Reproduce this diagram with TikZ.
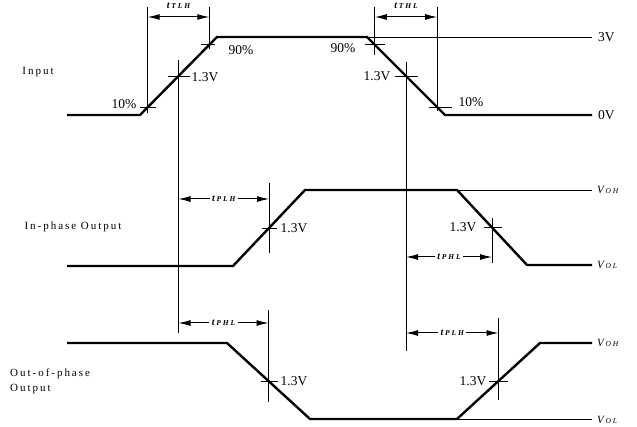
\documentclass[tikz,border=0pt]{standalone}
\usepackage{fontspec}
\setmainfont{Liberation Serif}
\usetikzlibrary{arrows.meta,calc}
\newcommand{\dt}[1]{{\fontsize{10}{11}\selectfont t}\,{\fontsize{7.5}{8}\selectfont\addfontfeature{LetterSpace=25}#1}}
\newcommand{\vv}[1]{{\fontsize{11}{12}\selectfont V}\,{\fontsize{7.5}{8}\selectfont\addfontfeature{LetterSpace=25}#1}}
\begin{document}
\begin{tikzpicture}[x=1pt,y=-1pt,
  wave/.style={line width=2.4pt,line join=miter},
  thinline/.style={line width=0.9pt},
  dimline/.style={line width=1pt,{Latex[length=12pt,width=6pt]}-{Latex[length=12pt,width=6pt]}},
  lbl/.style={font=\fontsize{13.5}{15}\selectfont,inner sep=0pt},
  dlbl/.style={font=\bfseries\itshape,inner sep=1.5pt},
  dlblw/.style={dlbl,fill=white,inner sep=2.5pt},
  sig/.style={font=\fontsize{11}{15}\selectfont\addfontfeature{LetterSpace=18},inner sep=0pt,align=left},
  vlbl/.style={font=\itshape,inner sep=0pt,anchor=west},
]
\useasboundingbox (0,0) rectangle (637,427);
% levels
\coordinate (y7) at (0,7);
\coordinate (y17) at (0,17);
\coordinate (y6) at (0,6);
% ---------- Input ----------
\coordinate (i0) at (67,115);
\coordinate (i1) at (140,115);
\coordinate (i2) at (217,37);
\coordinate (i3) at (367,37);
\coordinate (i4) at (445,115);
\coordinate (i5) at (592,115);
\coordinate (i3v) at (592,37);
\draw[wave] (i0) -- (i1) -- (i2) -- (i3) -- (i4) -- (i5);
\draw[thinline] (i3) -- (i3v);
\coordinate (r10) at ($(i1)!0.1!(i2)$);
\coordinate (r50) at ($(i1)!0.5!(i2)$);
\coordinate (r90) at ($(i1)!0.9!(i2)$);
\coordinate (f90) at ($(i3)!0.1!(i4)$);
\coordinate (f50) at ($(i3)!0.5!(i4)$);
\coordinate (f10) at ($(i3)!0.9!(i4)$);
% crosshair ticks
\draw[thinline] ($(r10)+(-8,0)$) -- ($(r10)+(8,0)$);
\draw[thinline] ($(r50)+(-11,0)$) -- ($(r50)+(11,0)$);
\draw[thinline] ($(r90)+(-8,0)$) -- ($(r90)+(6,0)$);
\draw[thinline] ($(f90)+(-10,0)$) -- ($(f90)+(10,0)$);
\draw[thinline] ($(f50)+(-11,0)$) -- ($(f50)+(12,0)$);
\draw[thinline] ($(f10)+(-8,0)$) -- ($(f10)+(15,0)$);
% extension lines
\draw[thinline] (r10 |- y7) -- ($(r10)+(0,6)$);
\draw[thinline] (r90 |- y7) -- ($(r90)+(0,4)$);
\draw[thinline] (f90 |- y7) -- ($(f90)+(0,10)$);
\draw[thinline] (f10 |- y7) -- ($(f10)+(0,4)$);
\draw[thinline] ($(r50)+(0,-16)$) -- (r50 |- 0,333);
\draw[thinline] ($(f50)+(0,-14)$) -- (f50 |- 0,351);
% dimensions
\draw[dimline] (r10 |- y17) -- (r90 |- y17);
\node[dlbl] (ttlh) at ($(r10 |- y6)!0.5!(r90 |- y6)$) {\dt{TLH}};
\draw[dimline] (f90 |- y17) -- (f10 |- y17);
\node[dlbl] (tthl) at ($(f90 |- y6)!0.5!(f10 |- y6)$) {\dt{THL}};
% labels
\node[sig] (lin) at (38,72) {Input};
\node[lbl] (l10a) at (124,104) {10\%};
\node[lbl] (l13a) at (205,77) {1.3V};
\node[lbl] (l90a) at (241,50) {90\%};
\node[lbl] (l90b) at (343,48) {90\%};
\node[lbl] (l13b) at (377,76) {1.3V};
\node[lbl] (l10b) at (471,102) {10\%};
\node[lbl,anchor=west] (l3v) at (598,37) {3V};
\node[lbl,anchor=west] (l0v) at (598,115) {0V};
% ---------- In-phase ----------
\coordinate (p0) at (67,266);
\coordinate (p1) at (233,266);
\coordinate (p2) at (305,190);
\coordinate (p3) at (457,190);
\coordinate (p4) at (527,265);
\coordinate (p5) at (592,265);
\coordinate (p3v) at (592,190);
\draw[wave] (p0) -- (p1) -- (p2) -- (p3) -- (p4) -- (p5);
\draw[thinline] (p3) -- (p3v);
\coordinate (pr50) at ($(p1)!0.5!(p2)$);
\coordinate (pf50) at ($(p3)!0.5!(p4)$);
\draw[thinline] ($(pr50)+(-7,0)$) -- ($(pr50)+(8,0)$);
\draw[thinline] ($(pf50)+(-8,0)$) -- ($(pf50)+(10,0)$);
\draw[thinline] (pr50 |- 0,183) -- (pr50 |- 0,253);
\draw[thinline] (pf50 |- 0,218) -- (pf50 |- 0,263);
\draw[dimline] (r50 |- 0,199) -- (pr50 |- 0,199);
\node[dlblw] (tplh1) at ($(r50 |- 0,199)!0.5!(pr50 |- 0,199)$) {\dt{PLH}};
\draw[dimline] (f50 |- 0,257) -- (pf50 |- 0,257);
\node[dlblw] (tphl1) at ($(f50 |- 0,257)!0.5!(pf50 |- 0,257)$) {\dt{PHL}};
\node[sig] (lip) at (73,227) {In-phase Output};
\node[lbl] (l13c) at (294,228) {1.3V};
\node[lbl] (l13d) at (463,227) {1.3V};
\node[vlbl] (voh1) at (597,190) {\vv{OH}};
\node[vlbl] (vol1) at (597,265) {\vv{OL}};
% ---------- Out-of-phase ----------
\coordinate (q0) at (67,343);
\coordinate (q1) at (227,343);
\coordinate (q2) at (310,419);
\coordinate (q3) at (457,419);
\coordinate (q4) at (540,343);
\coordinate (q5) at (592,343);
\coordinate (q3v) at (592,419);
\draw[wave] (q0) -- (q1) -- (q2) -- (q3) -- (q4) -- (q5);
\draw[thinline] (q3) -- (q3v);
\coordinate (qf50) at ($(q1)!0.5!(q2)$);
\coordinate (qr50) at ($(q3)!0.5!(q4)$);
\draw[thinline] ($(qf50)+(-8,0)$) -- ($(qf50)+(9,0)$);
\draw[thinline] ($(qr50)+(-10,0)$) -- ($(qr50)+(9,0)$);
\draw[thinline] (qf50 |- 0,310) -- (qf50 |- 0,402);
\draw[thinline] (qr50 |- 0,318) -- (qr50 |- 0,400);
\draw[dimline] (r50 |- 0,323) -- (qf50 |- 0,323);
\node[dlblw] (tphl2) at ($(r50 |- 0,323)!0.5!(qf50 |- 0,323)$) {\dt{PHL}};
\draw[dimline] (f50 |- 0,333) -- (qr50 |- 0,333);
\node[dlblw] (tplh2) at ($(f50 |- 0,333)!0.5!(qr50 |- 0,333)$) {\dt{PLH}};
\node[sig,anchor=west] (lop) at (10,381) {Out-of-phase\\Output};
\node[lbl] (l13e) at (294,381) {1.3V};
\node[lbl] (l13f) at (473,381) {1.3V};
\node[vlbl] (voh2) at (597,343) {\vv{OH}};
\node[vlbl] (vol2) at (597,420) {\vv{OL}};
\end{tikzpicture}
\end{document}
